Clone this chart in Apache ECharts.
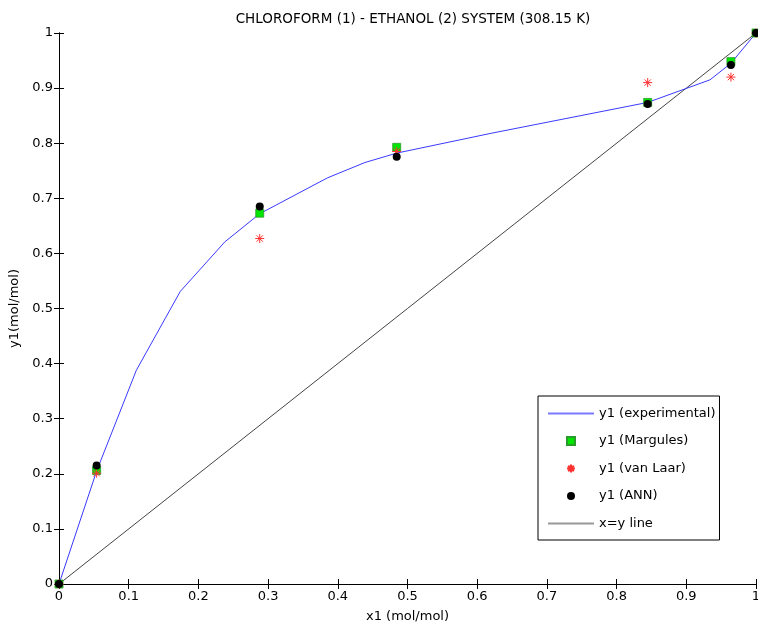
<!DOCTYPE html>
<html>
<head>
<meta charset="utf-8">
<script src="https://cdn.jsdelivr.net/npm/echarts@6/dist/echarts.min.js"></script>
<style>
  html, body { margin: 0; padding: 0; background: #fff; }
  #chart { width: 758px; height: 629px; }
</style>
</head>
<body>
<div id="chart"></div>
<script>
// experimental curve
var expX = [0, 0.054, 0.111, 0.174, 0.238, 0.288, 0.385, 0.439, 0.4845, 0.62, 0.8446, 0.934, 0.964, 1];
var expY = [0, 0.205, 0.388, 0.531, 0.621, 0.672, 0.737, 0.765, 0.782, 0.818, 0.874, 0.915, 0.945, 1];

// model points share the same x1 values
var modelX = [0, 0.054, 0.288, 0.4845, 0.8446, 0.964, 1];
var margules = [0, 0.206, 0.673, 0.7925, 0.874, 0.948, 1];
var vanLaar = [0, 0.201, 0.627, 0.785, 0.910, 0.920, 1];
var ann = [0, 0.215, 0.685, 0.7756, 0.871, 0.942, 1];

var diagX = [0, 1];

function pairs(xs, ys) {
  return xs.map(function (x, i) { return [x, ys[i]]; });
}

var font = 'DejaVu Sans, sans-serif';
var star = 'path://M5,0 L5,10 M0,5 L10,5 M1.5,1.5 L8.5,8.5 M8.5,1.5 L1.5,8.5';
var bar = 'path://M0,0 L46,0 L46,2 L0,2 Z';
var square = 'path://M0,0 L10,0 L10,10 L0,10 Z';

var chart = echarts.init(document.getElementById('chart'));

var tickStyle = { inside: true, length: 5, lineStyle: { color: '#000' } };
var lineStyle = { lineStyle: { color: '#000', width: 1 } };

chart.setOption({
  animation: false,
  title: {
    text: 'CHLOROFORM (1) - ETHANOL (2) SYSTEM (308.15 K)',
    left: 408,
    textAlign: 'center',
    top: 7,
    textStyle: { fontFamily: font, fontSize: 13.5, fontWeight: 'normal', color: '#000' }
  },
  grid: { left: 59, top: 33, width: 697, height: 551, outerBoundsMode: 'none' },
  xAxis: [{
    type: 'value', min: 0, max: 1, interval: 0.1,
    name: 'x1 (mol/mol)', nameLocation: 'middle', nameGap: 26,
    nameTextStyle: { fontFamily: font, fontSize: 13, color: '#000' },
    axisLine: lineStyle, axisTick: tickStyle,
    axisLabel: { margin: 6, fontFamily: font, fontSize: 13, color: '#000' },
    splitLine: { show: false }
  }, {
    type: 'value', min: 0, max: 1, interval: 0.1, position: 'top',
    axisLine: lineStyle, axisTick: tickStyle,
    axisLabel: { show: false }, splitLine: { show: false }
  }],
  yAxis: [{
    type: 'value', min: 0, max: 1, interval: 0.1,
    name: 'y1(mol/mol)', nameLocation: 'middle', nameGap: 36,
    nameTextStyle: { fontFamily: font, fontSize: 13, color: '#000' },
    axisLine: lineStyle, axisTick: tickStyle,
    axisLabel: { margin: 6, fontFamily: font, fontSize: 13, color: '#000' },
    splitLine: { show: false }
  }, {
    type: 'value', min: 0, max: 1, interval: 0.1, position: 'right',
    axisLine: lineStyle, axisTick: tickStyle,
    axisLabel: { show: false }, splitLine: { show: false }
  }],
  legend: {
    orient: 'vertical',
    left: 538, top: 396,
    padding: [11, 4, 10, 10],
    itemWidth: 46, itemHeight: 8, itemGap: 14.5,
    backgroundColor: '#fff',
    borderColor: '#000', borderWidth: 1,
    textStyle: { fontFamily: font, fontSize: 13, color: '#000' },
    data: [
      { name: 'y1 (experimental)', icon: bar, itemStyle: { color: '#7a7aff' }, lineStyle: { color: '#7a7aff' } },
      { name: 'y1 (Margules)', icon: square },
      { name: 'y1 (van Laar)' },
      { name: 'y1 (ANN)' },
      { name: 'x=y line', icon: bar, itemStyle: { color: '#999' }, lineStyle: { color: '#999' } }
    ]
  },
  series: [{
    name: 'y1 (experimental)', type: 'line', symbol: 'none',
    data: pairs(expX, expY),
    lineStyle: { color: '#3a3aff', width: 1 }, itemStyle: { color: '#3a3aff' },
    z: 2
  }, {
    name: 'x=y line', type: 'line', symbol: 'none',
    data: pairs(diagX, diagX),
    lineStyle: { color: '#444', width: 1 }, itemStyle: { color: '#444' },
    z: 1
  }, {
    name: 'y1 (Margules)', type: 'scatter', symbol: 'rect', symbolSize: 8,
    data: pairs(modelX, margules),
    itemStyle: { color: '#00e600', borderColor: '#2a9a2a', borderWidth: 0.8, opacity: 1 },
    z: 3
  }, {
    name: 'y1 (van Laar)', type: 'scatter', symbol: star, symbolSize: 9,
    data: pairs(modelX, vanLaar),
    itemStyle: { color: 'rgba(0,0,0,0)', borderColor: '#ff3030', borderWidth: 1, opacity: 1 },
    z: 4
  }, {
    name: 'y1 (ANN)', type: 'scatter', symbol: 'circle', symbolSize: 8,
    data: pairs(modelX, ann),
    itemStyle: { color: '#000', opacity: 1 },
    z: 5
  }]
});
</script>
</body>
</html>
